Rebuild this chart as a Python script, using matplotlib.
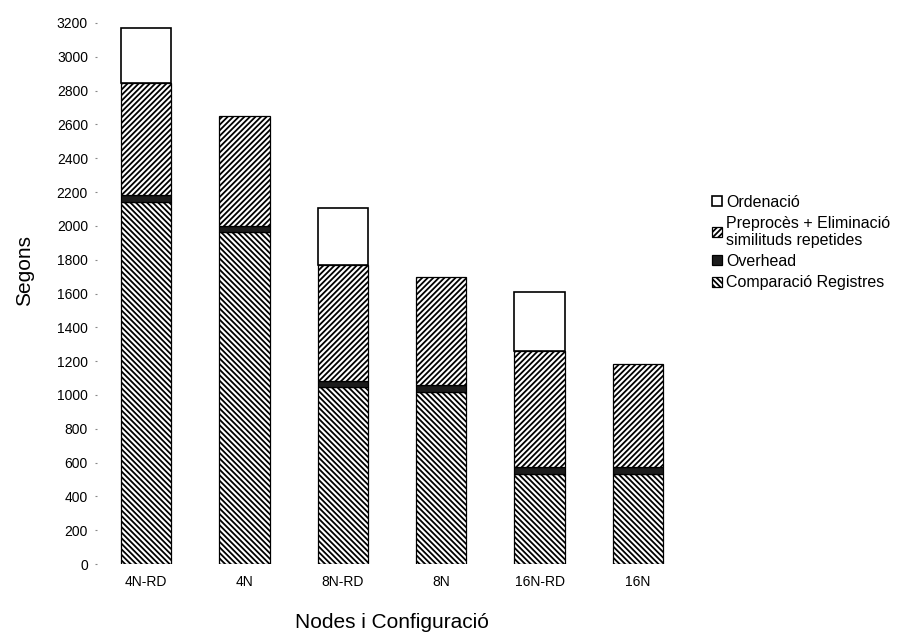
import matplotlib
matplotlib.use('Agg')
import matplotlib.pyplot as plt
from matplotlib.patches import Patch
import numpy as np

plt.rcParams['font.family'] = ['Liberation Sans', 'DejaVu Sans']
plt.rcParams['hatch.linewidth'] = 1.3

categories = ['4N-RD', '4N', '8N-RD', '8N', '16N-RD', '16N']
comparacio = [2140, 1965, 1045, 1015, 530, 535]
overhead = [45, 37, 40, 44, 42, 37]
preproces = [660, 645, 684, 638, 686, 610]
ordenacio = [325, 0, 336, 0, 353, 0]
yticks = list(range(0, 3201, 200))

labels = ['Ordenació', 'Preprocès + Eliminació\nsimilituds repetides',
          'Overhead', 'Comparació Registres']

W, H = 916, 637
fig = plt.figure(figsize=(W / 100, H / 100), dpi=100)
ax = fig.add_axes([97 / W, 1 - 564 / H, 590 / W, 541 / H])

x = np.arange(len(categories))
bw = 0.51
c = np.array(comparacio, float)
o = np.array(overhead, float)
p = np.array(preproces, float)
r = np.array(ordenacio, float)

st_comp = dict(facecolor='white', edgecolor='black', hatch='\\\\\\\\\\\\', linewidth=0.9)
st_over = dict(facecolor='#1c1c1c', edgecolor='black', linewidth=0.9)
st_prep = dict(facecolor='white', edgecolor='black', hatch='//////', linewidth=0.9)
st_ord = dict(facecolor='white', edgecolor='black', linewidth=1.2)

ax.bar(x, c, bw, **st_comp)
ax.bar(x, o, bw, bottom=c, **st_over)
ax.bar(x, p, bw, bottom=c + o, **st_prep)
mask = r > 0
ax.bar(x[mask], r[mask], bw, bottom=(c + o + p)[mask], **st_ord)

ax.set_xlim(-0.5, len(categories) - 0.5)
ax.set_ylim(0, 3200)
ax.set_yticks(yticks)
ax.set_yticklabels([str(v) for v in yticks])
ax.set_xticks(x)
ax.set_xticklabels(categories)
for s in ax.spines.values():
    s.set_visible(False)
ax.tick_params(axis='y', length=1.5, width=0.8, color='#888888', pad=5, labelsize=10)
ax.tick_params(axis='x', length=0, pad=8, labelsize=10)

ax.set_xlabel('Nodes i Configuració', fontsize=15)
ax.xaxis.set_label_coords(0.5, -0.09)
ax.set_ylabel('Segons', fontsize=15)
ax.yaxis.label.set_va('center')
ax.yaxis.set_label_coords(-0.122, 0.543)

handles = [Patch(**st_ord), Patch(**st_prep), Patch(**st_over), Patch(**st_comp)]
leg = ax.legend(handles, labels, loc='upper left', bbox_to_anchor=(712 / W, 1 - 195 / H),
                bbox_transform=fig.transFigure, frameon=False, fontsize=11.5,
                handlelength=0.6, handleheight=0.6, handletextpad=0.3,
                labelspacing=0.4, borderpad=0, borderaxespad=0)
for t in leg.get_texts():
    t.set_linespacing(1.1)

fig.savefig('out.png', dpi=100)
